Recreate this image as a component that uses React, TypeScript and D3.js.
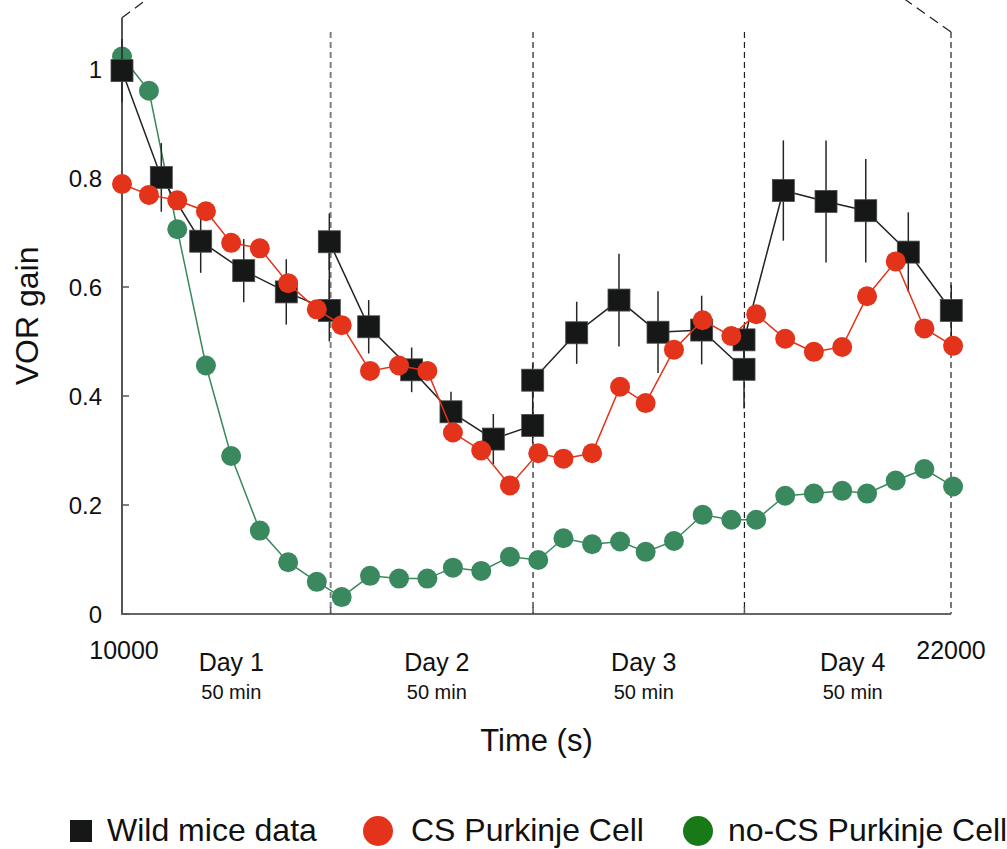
import React from "react";
import * as d3 from "d3";

// Session boundaries (end of each 50-minute training day), seconds
const dayEnds = [13020, 15950, 19010, 22000];
const dayNames = ["Day 1", "Day 2", "Day 3", "Day 4"];
const daySub = "50 min";

const yTicks = [0, 0.2, 0.4, 0.6, 0.8, 1];
const yTickLabels = ["0", "0.2", "0.4", "0.6", "0.8", "1"];
const xEndLabels = ["10000", "22000"];

// Model simulations, sampled every ~400 s
const modelTimes = [
  10000, 10390, 10800, 11215, 11580, 11995, 12405, 12820, 13180, 13590, 14010,
  14420, 14790, 15200, 15615, 16025, 16390, 16805, 17210, 17580, 17990, 18405,
  18820, 19180, 19600, 20015, 20425, 20785, 21200, 21615, 22030,
];
const csGain = [
  0.789, 0.769, 0.759, 0.739, 0.681, 0.671, 0.607, 0.559, 0.53, 0.446, 0.456,
  0.446, 0.333, 0.3, 0.236, 0.295, 0.285, 0.295, 0.417, 0.387, 0.485, 0.539,
  0.51, 0.55, 0.505, 0.481, 0.49, 0.583, 0.647, 0.524, 0.492,
];
const noCsGain = [
  1.023, 0.96, 0.706, 0.456, 0.29, 0.153, 0.095, 0.059, 0.031, 0.07, 0.065,
  0.065, 0.085, 0.079, 0.105, 0.099, 0.139, 0.128, 0.133, 0.114, 0.134, 0.182,
  0.173, 0.173, 0.217, 0.221, 0.226, 0.221, 0.245, 0.266, 0.234,
];

// Wild-type mice recordings (mean ± error), six samples per day
const miceTimes = [
  10000, 10569, 11139, 11762, 12378, 13001,
  13001, 13571, 14193, 14762, 15375, 15945,
  15945, 16582, 17194, 17759, 18391, 19004,
  19004, 19573, 20191, 20766, 21382, 22004,
];
const miceGain = [
  0.997, 0.801, 0.684, 0.63, 0.591, 0.557,
  0.683, 0.527, 0.448, 0.371, 0.321, 0.346,
  0.429, 0.516, 0.576, 0.517, 0.521, 0.449,
  0.503, 0.777, 0.757, 0.74, 0.664, 0.557,
];
const miceErr = [
  0.058, 0.063, 0.058, 0.058, 0.06, 0.057,
  0.052, 0.049, 0.041, 0.037, 0.046, 0.033,
  0.031, 0.057, 0.085, 0.075, 0.063, 0.072,
  0.025, 0.092, 0.112, 0.095, 0.073, 0.047,
];

const legendLabels = ["Wild mice data", "CS Purkinje Cell", "no-CS Purkinje Cell"];

const RED = "#e3331a";
const GREEN = "#3a885e";
const GREEN_KEY = "#177a17";
const BLACK = "#161817";
const FONT = "'Liberation Sans', Arial, Helvetica, sans-serif";

export default function App() {
  const W = 1007;
  const H = 849;
  const x = d3.scaleLinear().domain([10000, 22000]).range([122, 951]);
  const y = d3.scaleLinear().domain([0, 1]).range([614, 69]);

  const x0 = x(10000);
  const yBottom = y(0);
  const yAxisTop = y(1.094);
  const dashTop = y(1.068);

  const lineGen = d3
    .line<[number, number]>()
    .x((d) => x(d[0]))
    .y((d) => y(d[1]));

  const csPts = modelTimes.map((t, i) => [t, csGain[i]] as [number, number]);
  const noCsPts = modelTimes.map((t, i) => [t, noCsGain[i]] as [number, number]);
  const micePts = miceTimes.map((t, i) => [t, miceGain[i]] as [number, number]);

  const sq = 22;
  const r = 10;
  const dayStarts = [10000, ...dayEnds.slice(0, -1)];
  const xEnd = x(22000);

  return (
    <svg
      width={W}
      height={H}
      style={{ position: "absolute", left: 0, top: 0, background: "#fff" }}
      fontFamily={FONT}
    >
      {/* day separators */}
      {dayEnds.map((t, i) => (
        <line
          key={"sep" + i}
          x1={x(t)}
          x2={x(t)}
          y1={dashTop}
          y2={yBottom}
          stroke={i === 0 ? "#808080" : "#1e1e1e"}
          strokeWidth={i === 0 ? 2 : 1.2}
          strokeDasharray="6,4"
        />
      ))}

      {/* connector lines leaving the top of the frame */}
      <line
        x1={x0}
        y1={yAxisTop}
        x2={x0 + (23 * (yAxisTop + 20)) / 17}
        y2={-20}
        stroke="#1e1e1e"
        strokeWidth={1.2}
        strokeDasharray="10,6"
      />
      <line
        x1={xEnd}
        y1={dashTop}
        x2={xEnd - (36.7 * (dashTop + 20)) / 26}
        y2={-20}
        stroke="#1e1e1e"
        strokeWidth={1.2}
        strokeDasharray="10,6"
      />

      {/* axes */}
      <line x1={x0} x2={x0} y1={yAxisTop} y2={yBottom + 1} stroke="#555" strokeWidth={2} />
      <line x1={x0 - 1} x2={xEnd} y1={yBottom} y2={yBottom} stroke="#666" strokeWidth={2} />
      {yTicks.map((v, i) => (
        <g key={"yt" + i}>
          <line x1={x0} x2={x0 + 7} y1={y(v)} y2={y(v)} stroke="#555" strokeWidth={1.5} />
          <text
            x={102}
            y={y(v)}
            dy="0.36em"
            textAnchor="end"
            fontSize={24}
            fill="#111"
          >
            {yTickLabels[i]}
          </text>
        </g>
      ))}
      {dayEnds.slice(0, -1).map((t, i) => (
        <line
          key={"xt" + i}
          x1={x(t)}
          x2={x(t)}
          y1={yBottom}
          y2={yBottom - 7}
          stroke="#555"
          strokeWidth={1.5}
        />
      ))}
      <text x={x(10000) + 2} y={659} textAnchor="middle" fontSize={25} fill="#111">
        {xEndLabels[0]}
      </text>
      <text x={x(22000)} y={659} textAnchor="middle" fontSize={25} fill="#111">
        {xEndLabels[1]}
      </text>
      {dayNames.map((name, i) => {
        const cx = x((dayStarts[i] + dayEnds[i]) / 2) + 5;
        return (
          <g key={"day" + i}>
            <text x={cx} y={671} textAnchor="middle" fontSize={25} fill="#111">
              {name}
            </text>
            <text x={cx} y={699} textAnchor="middle" fontSize={20} fill="#111">
              {daySub}
            </text>
          </g>
        );
      })}
      <text x={(x0 + xEnd) / 2} y={751} textAnchor="middle" fontSize={31} fill="#111">
        Time (s)
      </text>
      <text
        transform={`translate(38, ${(yBottom + yAxisTop) / 2}) rotate(-90)`}
        textAnchor="middle"
        fontSize={32}
        fill="#111"
      >
        VOR gain
      </text>

      {/* no-CS Purkinje cell model */}
      <path d={lineGen(noCsPts) || ""} fill="none" stroke={GREEN} strokeWidth={1.5} />
      {noCsPts.map((d, i) => (
        <circle key={"g" + i} cx={x(d[0])} cy={y(d[1])} r={r} fill={GREEN} />
      ))}

      {/* wild mice data */}
      <path d={lineGen(micePts) || ""} fill="none" stroke="#222" strokeWidth={1.5} />
      {micePts.map((d, i) => (
        <line
          key={"e" + i}
          x1={x(d[0])}
          x2={x(d[0])}
          y1={y(d[1] + miceErr[i])}
          y2={y(d[1] - miceErr[i])}
          stroke="#262626"
          strokeWidth={1.5}
        />
      ))}
      {micePts.map((d, i) => (
        <rect
          key={"s" + i}
          x={x(d[0]) - sq / 2}
          y={y(d[1]) - sq / 2}
          width={sq}
          height={sq}
          fill={BLACK}
          stroke="#4a4a4a"
          strokeWidth={0.8}
        />
      ))}

      {/* CS Purkinje cell model */}
      <path d={lineGen(csPts) || ""} fill="none" stroke={RED} strokeWidth={1.5} />
      {csPts.map((d, i) => (
        <circle key={"r" + i} cx={x(d[0])} cy={y(d[1])} r={r} fill={RED} />
      ))}

      {/* legend */}
      <rect x={70} y={820} width={22} height={22} fill={BLACK} />
      <text x={107} y={841} fontSize={32} fill="#111">
        {legendLabels[0]}
      </text>
      <circle cx={378} cy={831} r={15} fill={RED} />
      <text x={411} y={841} fontSize={32} fill="#111">
        {legendLabels[1]}
      </text>
      <circle cx={698} cy={831} r={15} fill={GREEN_KEY} />
      <text x={728} y={841} fontSize={32} fill="#111">
        {legendLabels[2]}
      </text>
    </svg>
  );
}
